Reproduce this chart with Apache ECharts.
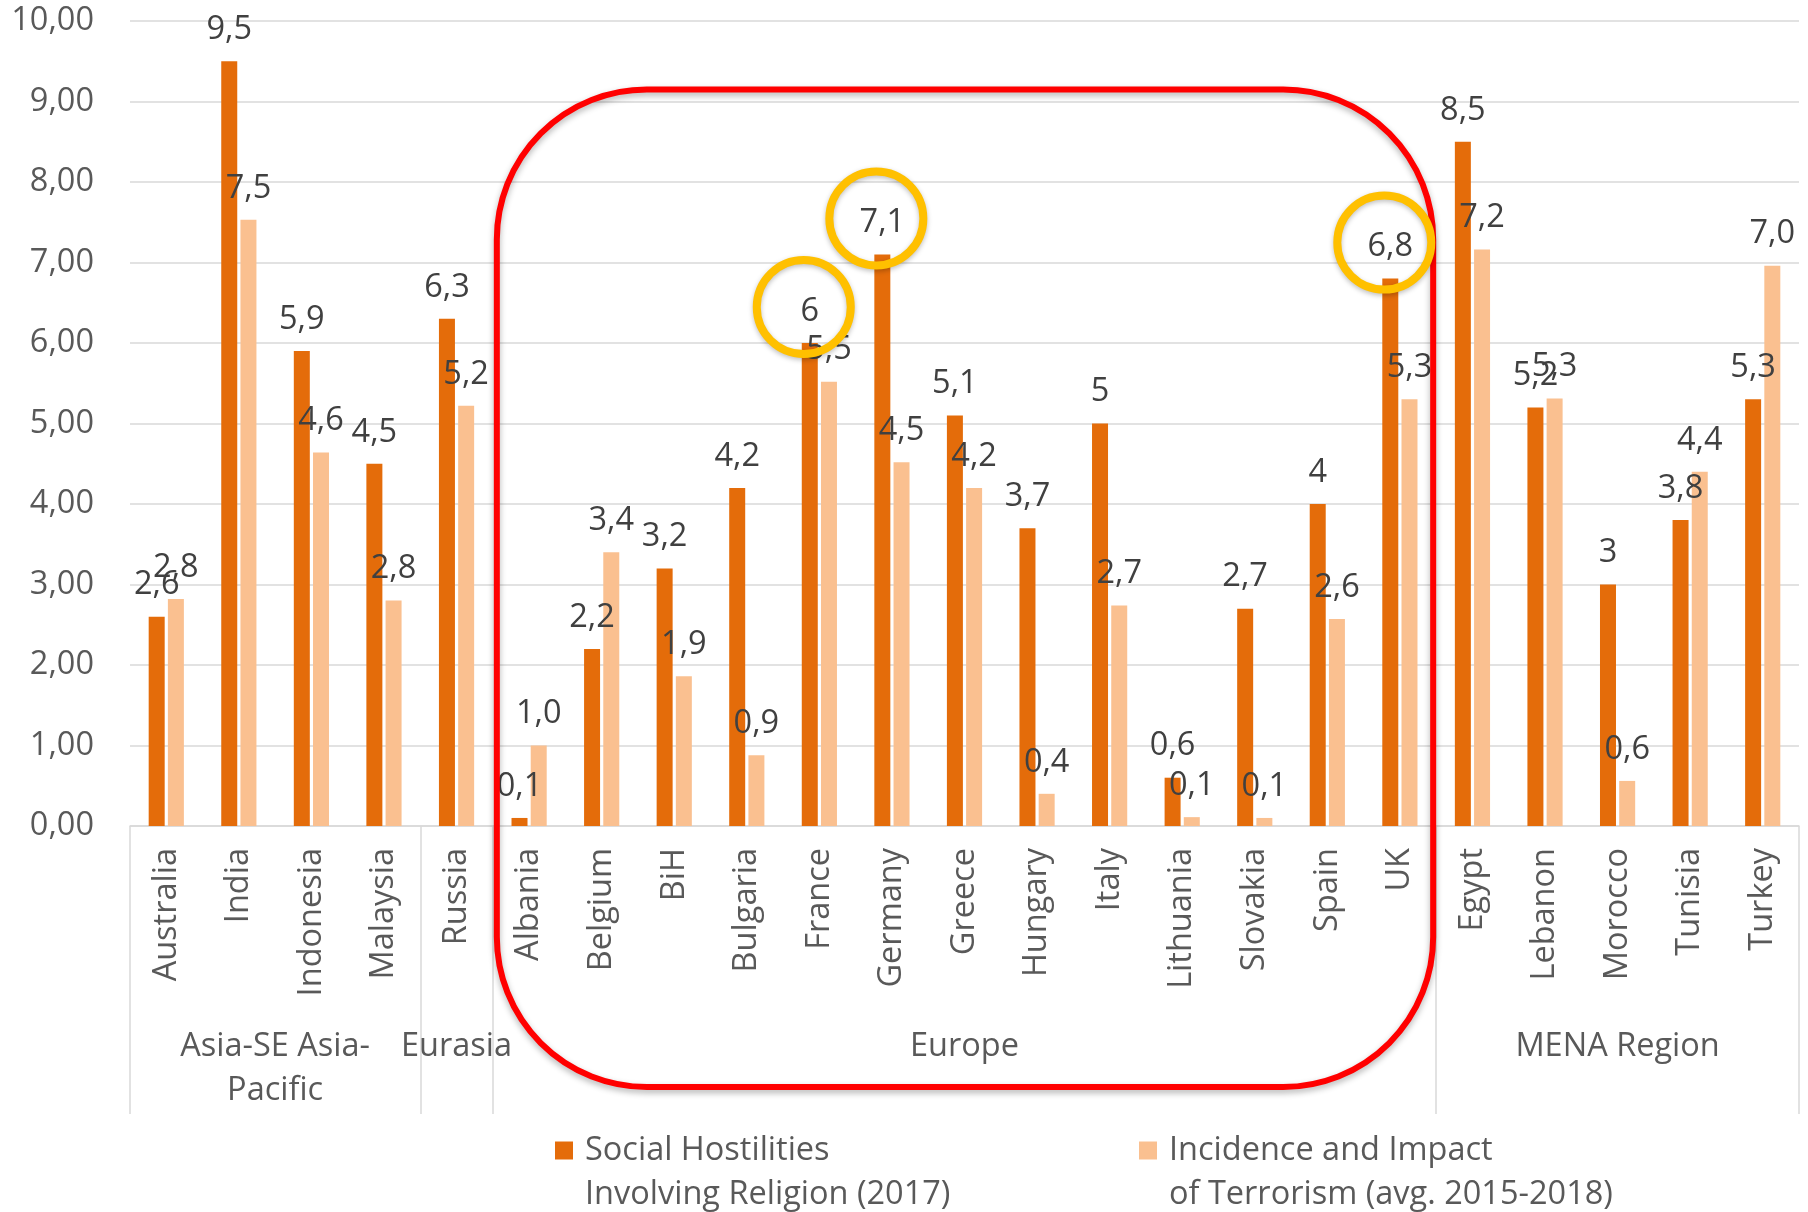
<!DOCTYPE html>
<html>
<head>
<meta charset="utf-8">
<script src="https://cdn.jsdelivr.net/npm/echarts@6/dist/echarts.min.js"></script>
<style>
  html, body { margin: 0; padding: 0; background: #fff; }
  #chart { width: 1808px; height: 1212px; }
</style>
</head>
<body>
<div id="chart"></div>
<script>
// data
const categories = ['Australia', 'India', 'Indonesia', 'Malaysia', 'Russia', 'Albania', 'Belgium', 'BiH',
  'Bulgaria', 'France', 'Germany', 'Greece', 'Hungary', 'Italy', 'Lithuania', 'Slovakia', 'Spain', 'UK',
  'Egypt', 'Lebanon', 'Morocco', 'Tunisia', 'Turkey'];
const groupNames = ['Asia-SE Asia-\nPacific', 'Eurasia', 'Europe', 'MENA Region'];
const groupSizes = [4, 1, 13, 5];
const socialHostilities = [2.6, 9.5, 5.9, 4.5, 6.3, 0.1, 2.2, 3.2, 4.2, 6, 7.1, 5.1, 3.7, 5, 0.6, 2.7, 4, 6.8,
  8.5, 5.2, 3, 3.8, 5.3];
const terrorismImpact = [2.82, 7.53, 4.64, 2.8, 5.22, 1.0, 3.4, 1.86, 0.88, 5.52, 4.52, 4.2, 0.4, 2.74, 0.11,
  0.1, 2.57, 5.3, 7.16, 5.31, 0.56, 4.4, 6.96];
const seriesNames = ['Social Hostilities Involving Religion (2017)', 'Incidence and Impact of Terrorism (avg. 2015-2018)'];
const legendLines = [['Social Hostilities', 'Involving Religion (2017)'], ['Incidence and Impact', 'of Terrorism (avg. 2015-2018)']];
const highlighted = ['France', 'Germany', 'UK'];
const boxedGroup = 'Europe';

const ORANGE = '#E46C0A';
const LIGHT = '#FAC090';
const FONT = 'Open Sans';
const FS = 32.5;

// second level axis: half-category slots so every group has a slot at its centre
const groupSlots = [];
const groupLabelAt = {};
const groupBounds = new Set([0]);
let start = 0;
groupSizes.forEach(function (n, i) {
  groupLabelAt[start + n] = groupNames[i];
  start += 2 * n;
  groupBounds.add(start);
});
for (let i = 0; i <= 2 * categories.length; i++) groupSlots.push('s' + i);

function comma(s) { return s.replace('.', ','); }

const myChart = echarts.init(document.getElementById('chart'));

function legendFor(i, left) {
  return {
    left: left,
    top: 1134,
    padding: 0,
    icon: 'none',
    itemWidth: 0,
    itemHeight: 0,
    selectedMode: false,
    data: [seriesNames[i]],
    formatter: function () {
      return '{k' + i + '|}{t|' + legendLines[i][0] + '}\n{p|}{t|' + legendLines[i][1] + '}';
    },
    textStyle: {
      rich: {
        k0: { width: 18, height: 18, backgroundColor: ORANGE },
        k1: { width: 18, height: 18, backgroundColor: LIGHT },
        p: { width: 18, height: 18 },
        t: { fontFamily: FONT, fontSize: FS, color: '#595959', lineHeight: 44, padding: [0, 0, 0, 12] }
      }
    }
  };
}

myChart.setOption({
  animation: false,
  backgroundColor: '#fff',
  textStyle: { fontFamily: FONT },
  grid: { left: 130, right: 9, top: 21, bottom: 386, containLabel: false, outerBoundsMode: 'none' },
  legend: [legendFor(0, 550), legendFor(1, 1134)],
  xAxis: [
    {
      type: 'category',
      data: categories,
      position: 'bottom',
      axisLine: { lineStyle: { color: '#d9d9d9', width: 1.5 } },
      axisTick: { show: false },
      axisLabel: { interval: 0, rotate: 90, margin: 22, fontSize: FS, color: '#595959', fontFamily: FONT }
    },
    {
      type: 'category',
      data: groupSlots,
      boundaryGap: false,
      position: 'bottom',
      axisLine: { show: false },
      axisTick: {
        show: true,
        length: 288,
        interval: function (idx) { return groupBounds.has(idx); },
        lineStyle: { color: '#d9d9d9', width: 1.5 }
      },
      axisLabel: {
        interval: function (idx) { return groupLabelAt[idx] !== undefined; },
        formatter: function (v, idx) { return groupLabelAt[idx] || ''; },
        margin: 199,
        fontSize: FS,
        lineHeight: 44,
        color: '#595959',
        fontFamily: FONT
      }
    }
  ],
  yAxis: {
    type: 'value',
    min: 0,
    max: 10,
    interval: 1,
    axisLine: { show: false },
    axisTick: { show: false },
    axisLabel: {
      margin: 36,
      fontSize: FS,
      color: '#595959',
      fontFamily: FONT,
      formatter: function (v) { return comma(v.toFixed(2)); }
    },
    splitLine: { lineStyle: { color: '#d9d9d9', width: 1.5 } }
  },
  series: [
    {
      name: seriesNames[0],
      type: 'bar',
      data: socialHostilities,
      barWidth: 16,
      barGap: '20%',
      itemStyle: { color: ORANGE },
      label: {
        show: true,
        position: 'top',
        distance: 15,
        fontSize: FS,
        color: '#404040',
        fontFamily: FONT,
        formatter: function (p) { return comma(String(p.value)); }
      }
    },
    {
      name: seriesNames[1],
      type: 'bar',
      data: terrorismImpact,
      barWidth: 16,
      itemStyle: { color: LIGHT },
      label: {
        show: true,
        position: 'top',
        distance: 15,
        fontSize: FS,
        color: '#404040',
        fontFamily: FONT,
        formatter: function (p) { return comma(p.value.toFixed(1)); }
      }
    }
  ]
});

// annotations anchored to the data: red box round the Europe group, gold rings round three labels
const gi = groupNames.indexOf(boxedGroup);
const firstCat = groupSizes.slice(0, gi).reduce(function (a, b) { return a + b; }, 0);
const lastCat = firstCat + groupSizes[gi] - 1;
const pA = myChart.convertToPixel({ xAxisIndex: 0, yAxisIndex: 0 }, [categories[firstCat], 9.2]);
const pB = myChart.convertToPixel({ xAxisIndex: 0, yAxisIndex: 0 }, [categories[lastCat], 0]);
const band = myChart.convertToPixel({ xAxisIndex: 0 }, categories[1]) - myChart.convertToPixel({ xAxisIndex: 0 }, categories[0]);
const boxLeft = pA[0] - band / 2 + 4;
const boxRight = pB[0] + band / 2 - 3;
const boxTop = pA[1] + 4;
const boxBottom = pB[1] + 261;

const graphics = [{
  type: 'rect',
  z: 100,
  shape: { x: boxLeft, y: boxTop, width: boxRight - boxLeft, height: boxBottom - boxTop, r: 150 },
  style: { fill: 'none', stroke: '#FF0000', lineWidth: 6, shadowBlur: 6, shadowOffsetY: 3, shadowColor: 'rgba(0,0,0,0.3)' }
}];
highlighted.forEach(function (name) {
  const i = categories.indexOf(name);
  const p = myChart.convertToPixel({ xAxisIndex: 0, yAxisIndex: 0 }, [name, socialHostilities[i]]);
  graphics.push({
    type: 'circle',
    z: 101,
    shape: { cx: p[0] - 9.6 - 6, cy: p[1] - 36, r: 47 },
    style: { fill: 'none', stroke: '#FFC000', lineWidth: 8, shadowBlur: 5, shadowOffsetY: 2, shadowColor: 'rgba(0,0,0,0.25)' }
  });
});
myChart.setOption({ graphic: graphics });
</script>
</body>
</html>
